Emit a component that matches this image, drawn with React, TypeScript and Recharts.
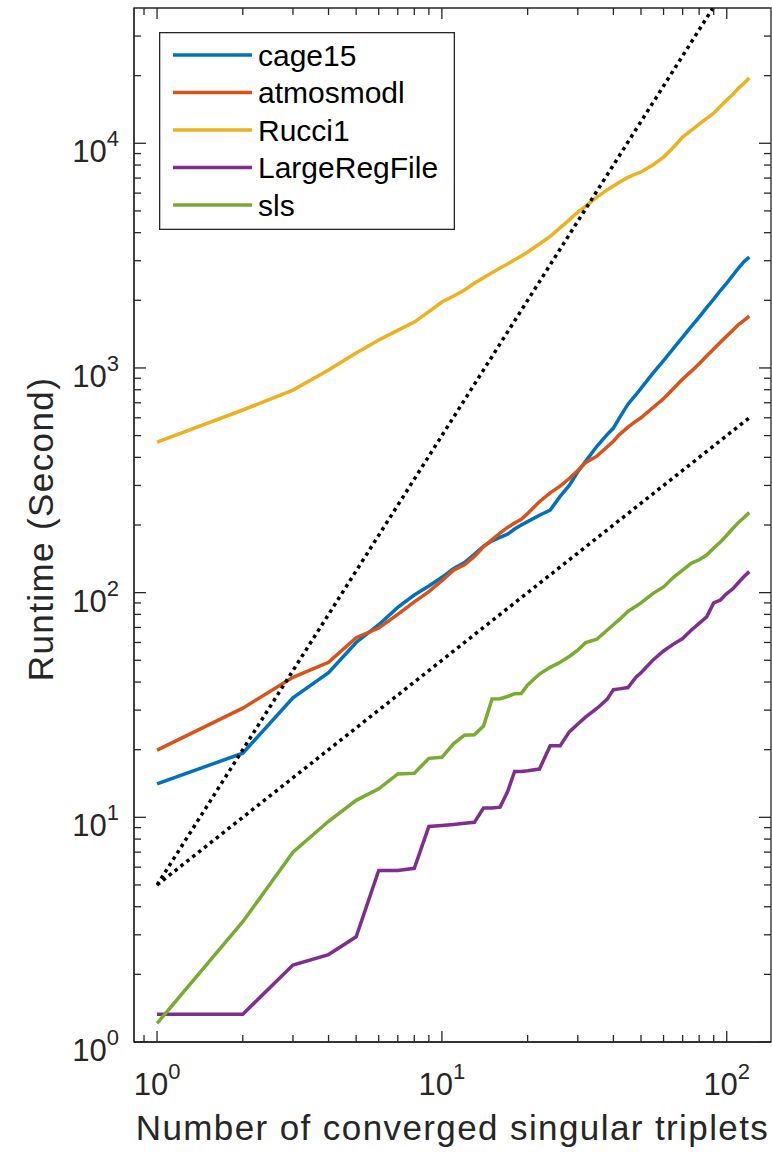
import React from 'react';
import { LineChart, Line, XAxis, YAxis, Legend, ReferenceArea } from 'recharts';

// number of converged singular triplets
const triplets = [1, 2, 3, 4, 5, 6, 7, 8, 9, 10, 11, 12, 13, 14, 15, 16, 17, 18, 19, 20,
  22, 24, 26, 28, 30, 32, 35, 38, 40, 42, 45, 48, 50,
  55, 60, 65, 70, 75, 80, 85, 90, 95, 100, 105, 110, 115, 120];

// runtime in seconds
const cage15 = [14.1, 19.3, 34, 44, 60, 72, 86, 97.6, 107, 117, 128, 136, 148, 161, 170, 176, 182, 192, 200, 207,
  221, 233, 268, 300, 345, 385, 448, 505, 540, 600, 690, 760, 811,
  946, 1079, 1223, 1373, 1527, 1685, 1857, 2026, 2211, 2387, 2581, 2784, 2975, 3115];
const atmosmodl = [19.9, 30.6, 42, 49, 63, 69.6, 80, 91, 101, 113, 126, 133, 145, 160, 172, 184, 195, 204, 212, 225,
  254, 278, 298, 322, 350, 380, 405, 445, 472, 505, 545, 580, 600,
  665, 730, 810, 893, 965, 1045, 1130, 1214, 1300, 1387, 1470, 1559, 1630, 1702];
const rucci1 = [468, 650, 797, 979, 1165, 1331, 1470, 1600, 1780, 1965, 2090, 2222, 2380, 2520, 2650, 2784, 2900, 3030, 3150, 3280,
  3560, 3850, 4200, 4560, 4943, 5250, 5763, 6200, 6450, 6700, 7050, 7300, 7447,
  8000, 8682, 9600, 10660, 11400, 12180, 12900, 13620, 14600, 15570, 16500, 17600, 18500, 19500];
const largeRegFile = [1.33, 1.33, 2.2, 2.45, 2.94, 5.8, 5.8, 5.93, 9.1, 9.2, 9.3, 9.4, 9.5, 11.0, 11.0, 11.1, 13.0, 16.0, 16.0, 16.1,
  16.4, 20.8, 20.8, 24, 26, 28, 30.5, 33.5, 37, 37.3, 37.8, 42, 44,
  50, 55, 59, 62.5, 68, 73, 78, 90, 92.7, 99, 104, 111, 118, 124];
const sls = [1.21, 3.43, 7.0, 9.6, 11.9, 13.4, 15.6, 15.7, 18.3, 18.5, 21.3, 23.2, 23.3, 25.5, 33.6, 33.7, 34.5, 35.5, 35.6, 38.8,
  43.4, 46.5, 49, 52, 55.5, 60, 62, 68, 72, 76, 82.5, 87, 90,
  99, 106, 117, 126, 135, 140, 147, 158, 168, 180, 193, 205, 216, 227];

// dotted reference slopes
const refK = [1, 120];
const refLinear = [5, 600];
const refQuadratic = [5, 72000];

const xDomain = [0.83, 143];
const yDomain = [1, 40000];
const xTicks = [0.9, 1, 2, 3, 4, 5, 6, 7, 8, 9, 10, 20, 30, 40, 50, 60, 70, 80, 90, 100];
const xMajor = [1, 10, 100];
const yTicks = [1, 2, 3, 4, 5, 6, 7, 8, 9, 10, 20, 30, 40, 50, 60, 70, 80, 90,
  100, 200, 300, 400, 500, 600, 700, 800, 900, 1000, 2000, 3000, 4000, 5000, 6000, 7000, 8000, 9000,
  10000, 20000, 30000];
const yMajor = [1, 10, 100, 1000, 10000];

const rows = triplets.map((k, i) => ({
  k,
  cage15: cage15[i],
  atmosmodl: atmosmodl[i],
  Rucci1: rucci1[i],
  LargeRegFile: largeRegFile[i],
  sls: sls[i],
}));
const linearRows = refK.map((k, i) => ({ k, v: refLinear[i] }));
const quadRows = refK.map((k, i) => ({ k, v: refQuadratic[i] }));

const series = [
  { key: 'cage15', color: '#0072BD' },
  { key: 'atmosmodl', color: '#D95319' },
  { key: 'Rucci1', color: '#EDB120' },
  { key: 'LargeRegFile', color: '#7E2F8E' },
  { key: 'sls', color: '#77AC30' },
];

const FONT = "'Liberation Sans', Arial, Helvetica, sans-serif";
const AXIS = '#262626';
const axisLine = { stroke: AXIS, strokeWidth: 1.3 };

// top and right edges of the axes box (ticks there mirror the bottom / left ones)
const TOP = 8;
const RIGHT = 771;

const Pow = ({ x, y, v, anchor }: any) => (
  <text x={x} y={y} textAnchor={anchor} fill={AXIS} fontFamily={FONT} fontSize={31}>
    10<tspan dy={-16} fontSize={22}>{Math.round(Math.log10(v))}</tspan>
  </text>
);

const BottomTick = ({ x, y, payload }: any) => {
  const major = xMajor.includes(payload.value);
  const len = major ? 11 : 7;
  return (
    <g>
      <line x1={x} y1={y} x2={x} y2={y - len} stroke={AXIS} strokeWidth={1.3} />
      <line x1={x} y1={TOP} x2={x} y2={TOP + len} stroke={AXIS} strokeWidth={1.3} />
      {major && <Pow x={x} y={y + 53} v={payload.value} anchor="middle" />}
    </g>
  );
};
const LeftTick = ({ x, y, payload }: any) => {
  const major = yMajor.includes(payload.value);
  const len = major ? 12 : 7;
  return (
    <g>
      <line x1={x} y1={y} x2={x + len} y2={y} stroke={AXIS} strokeWidth={1.3} />
      <line x1={RIGHT} y1={y} x2={RIGHT - len} y2={y} stroke={AXIS} strokeWidth={1.3} />
      {major && <Pow x={x - 15} y={y + 19} v={payload.value} anchor="end" />}
    </g>
  );
};

const LegendBox = () => (
  <svg width={296} height={198} style={{ display: 'block' }}>
    <rect x={0.65} y={0.65} width={294.7} height={196.7} fill="#fff" stroke={AXIS} strokeWidth={1.3} />
    {series.map((s, i) => {
      const cy = 23 + i * 37.5;
      return (
        <g key={s.key}>
          <line x1={14} y1={cy} x2={93} y2={cy} stroke={s.color} strokeWidth={3.5} />
          <text x={99} y={cy + 10.5} fontFamily={FONT} fontSize={30} fill="#000">{s.key}</text>
        </g>
      );
    })}
  </svg>
);

export default function App() {
  return (
    <div style={{ position: 'absolute', left: 0, top: 0, width: 772, height: 1152, background: '#fff' }}>
      <LineChart width={772} height={1152} data={rows} margin={{ top: TOP, right: 772 - RIGHT, bottom: 0, left: 0 }}>
        <XAxis
          dataKey="k"
          type="number"
          scale="log"
          domain={xDomain}
          allowDataOverflow
          ticks={xTicks}
          interval={0}
          tickSize={0}
          tickMargin={0}
          tickLine={false}
          axisLine={axisLine}
          height={110}
          tick={(p: any) => <BottomTick {...p} />}
          label={() => (
            <text x={452.5} y={1140} textAnchor="middle" fontFamily={FONT} fontSize={35}
              letterSpacing={1.4} fill={AXIS}>
              Number of converged singular triplets
            </text>
          )}
        />
        <YAxis
          type="number"
          scale="log"
          domain={yDomain}
          allowDataOverflow
          ticks={yTicks}
          interval={0}
          tickSize={0}
          tickMargin={0}
          tickLine={false}
          axisLine={axisLine}
          width={134}
          tick={(p: any) => <LeftTick {...p} />}
          label={() => (
            <text x={53} y={529} transform="rotate(-90, 53, 529)" textAnchor="middle" fontFamily={FONT}
              fontSize={35} letterSpacing={1.4} fill={AXIS}>
              Runtime (Second)
            </text>
          )}
        />
        <ReferenceArea
          x1={xDomain[0]}
          x2={xDomain[1]}
          y1={yDomain[0]}
          y2={yDomain[1]}
          ifOverflow="visible"
          fill="none"
          fillOpacity={0}
          stroke={AXIS}
          strokeWidth={1.3}
        />
        <Legend
          layout="vertical"
          align="center"
          verticalAlign="middle"
          content={<LegendBox />}
          wrapperStyle={{ left: 159, top: 32, width: 296, height: 198 }}
        />
        {series.map((s) => (
          <Line
            key={s.key}
            dataKey={s.key}
            name={s.key}
            stroke={s.color}
            strokeWidth={3.5}
            dot={false}
            type="linear"
            isAnimationActive={false}
          />
        ))}
        <Line data={quadRows} dataKey="v" stroke="#000" strokeWidth={3.5} strokeDasharray="3.5 4"
          dot={false} type="linear" legendType="none" isAnimationActive={false} />
        <Line data={linearRows} dataKey="v" stroke="#000" strokeWidth={3.5} strokeDasharray="3.5 4"
          dot={false} type="linear" legendType="none" isAnimationActive={false} />
      </LineChart>
    </div>
  );
}
